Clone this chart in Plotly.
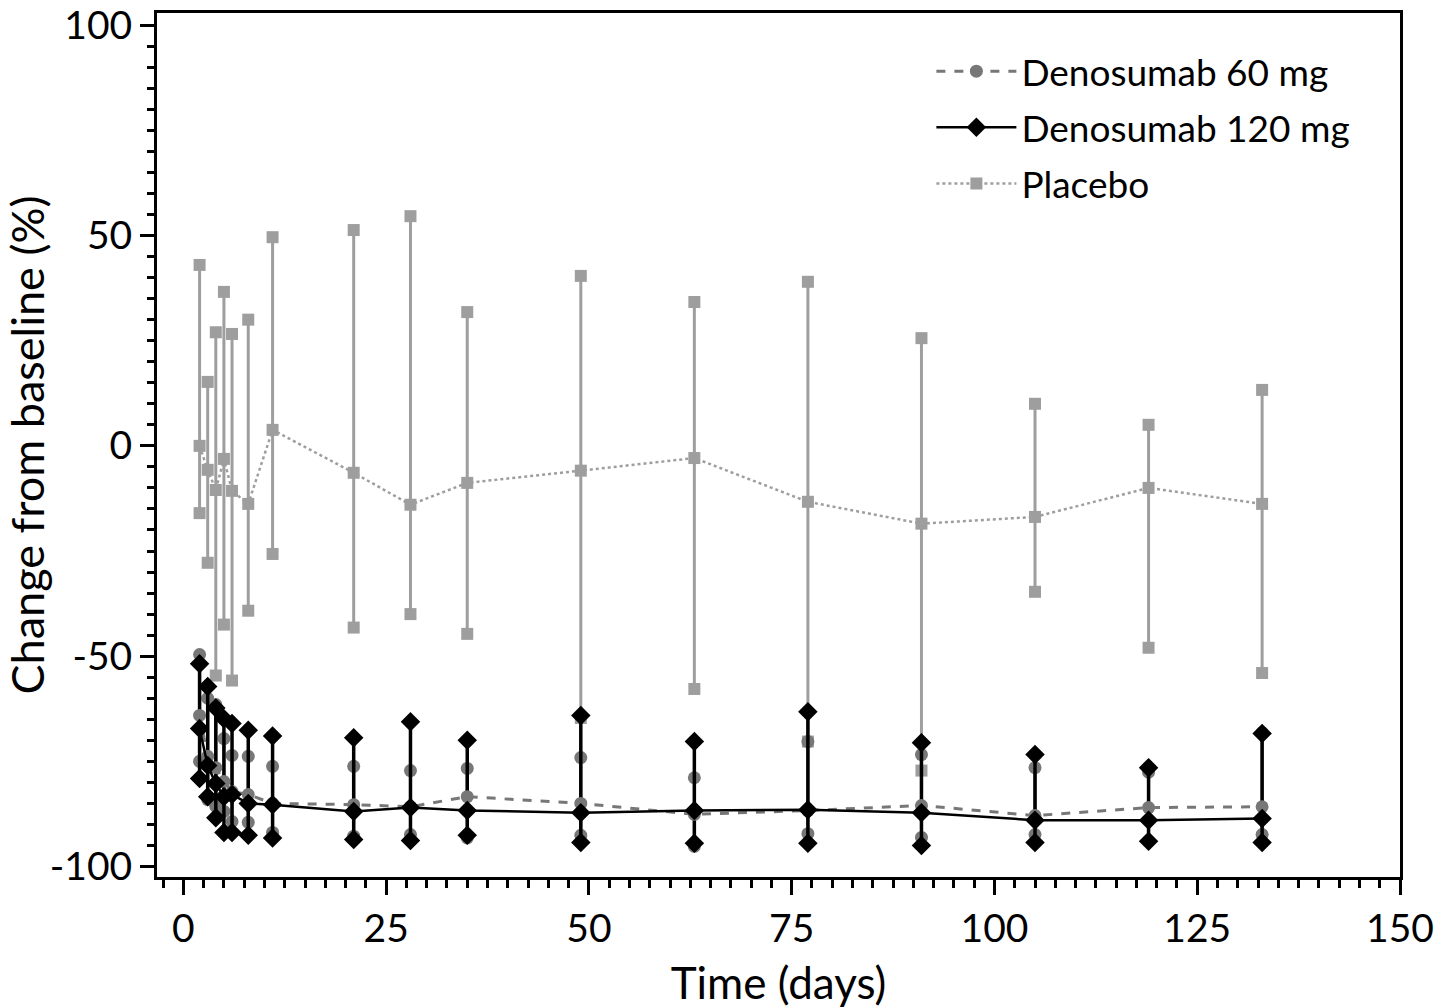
import plotly.graph_objects as go

days = [2, 3, 4, 5, 6, 8, 11, 21, 28, 35, 49, 63, 77, 91, 105, 119, 133]

placebo_mean = [0.0, -5.7, -10.5, -3.1, -10.7, -13.8, 3.8, -6.4, -14.0, -8.8, -5.9, -2.9, -13.3, -18.5, -16.9, -10.0, -13.8]
placebo_hi = [43.0, 15.2, 27.0, 36.6, 26.6, 30.0, 49.6, 51.3, 54.6, 31.8, 40.4, 34.2, 39.0, 25.6, 10.0, 5.0, 13.3]
placebo_lo = [-16.0, -27.8, -54.6, -42.5, -55.8, -39.2, -25.7, -43.2, -40.0, -44.7, -64.7, -57.8, -70.3, -77.2, -34.7, -48.0, -54.0]

d60_mean = [-64.1, -73.8, -76.5, -79.8, -82.2, -82.9, -85.0, -85.3, -85.8, -83.4, -85.0, -87.6, -86.7, -85.5, -87.9, -86.0, -85.8]
d60_hi = [-49.6, -60.0, -61.5, -69.6, -73.6, -73.8, -76.2, -76.2, -77.2, -76.7, -74.1, -78.9, -70.3, -73.4, -76.5, -77.6, -68.2]
d60_lo = [-75.0, -84.1, -85.7, -86.9, -89.3, -89.5, -91.9, -92.8, -92.4, -93.2, -92.6, -95.2, -92.2, -93.1, -92.4, -94.0, -92.4]

d120_mean = [-67.2, -76.0, -80.3, -83.4, -82.9, -85.0, -85.3, -86.9, -86.0, -86.7, -87.2, -86.7, -86.5, -87.2, -89.0, -89.0, -88.6]
d120_hi = [-51.8, -57.2, -62.3, -64.9, -66.0, -67.6, -69.0, -69.4, -65.6, -70.0, -64.1, -70.3, -63.2, -70.6, -73.4, -76.5, -68.4]
d120_lo = [-79.1, -83.4, -88.4, -91.9, -91.9, -92.6, -93.2, -93.6, -93.8, -92.6, -94.3, -94.5, -94.5, -95.0, -94.3, -94.0, -94.3]

x_ticks = [0, 25, 50, 75, 100, 125, 150]
y_ticks = [-100, -50, 0, 50, 100]
y_ticktext = ["-100", "-50", "0", "50", "100"]

FONT = "Lato"
C_PLA = "#9e9e9e"
C_60 = "#777777"
C_120 = "#000000"


def bar_xy(xs, lo, hi):
    bx, by = [], []
    for x, a, b in zip(xs, lo, hi):
        bx += [x, x, None]
        by += [a, b, None]
    return bx, by


fig = go.Figure()

bx, by = bar_xy(days, placebo_lo, placebo_hi)
fig.add_trace(go.Scatter(x=bx, y=by, mode="lines+markers", showlegend=False, hoverinfo="skip",
                         line=dict(color=C_PLA, width=3),
                         marker=dict(symbol="square", size=12, color=C_PLA)))
bx, by = bar_xy(days, d60_lo, d60_hi)
fig.add_trace(go.Scatter(x=bx, y=by, mode="lines+markers", showlegend=False, hoverinfo="skip",
                         line=dict(color=C_60, width=3),
                         marker=dict(symbol="circle", size=13, color=C_60)))
bx, by = bar_xy(days, d120_lo, d120_hi)
fig.add_trace(go.Scatter(x=bx, y=by, mode="lines+markers", showlegend=False, hoverinfo="skip",
                         line=dict(color=C_120, width=3.5),
                         marker=dict(symbol="diamond", size=15, color=C_120)))

fig.add_trace(go.Scatter(x=days, y=placebo_mean, mode="lines+markers", name="Placebo",
                         legendrank=3, legendgroup="c",
                         line=dict(color=C_PLA, width=2.5, dash="dot"),
                         marker=dict(symbol="square", size=12, color=C_PLA)))
fig.add_trace(go.Scatter(x=days, y=d60_mean, mode="lines+markers", name="Denosumab 60 mg",
                         legendrank=1, legendgroup="a",
                         line=dict(color=C_60, width=3, dash="dash"),
                         marker=dict(symbol="circle", size=13, color=C_60)))
fig.add_trace(go.Scatter(x=days, y=d120_mean, mode="lines+markers", name="Denosumab 120 mg",
                         legendrank=2, legendgroup="b",
                         line=dict(color=C_120, width=2.5),
                         marker=dict(symbol="diamond", size=15, color=C_120)))

axis_common = dict(showline=True, linecolor="black", linewidth=3, mirror=True,
                   ticks="outside", tickcolor="black", tickwidth=3,
                   showgrid=False, zeroline=False, automargin=False,
                   ticklabeloverflow="allow",
                   tickfont=dict(family=FONT, size=39, color="black"))

fig.update_xaxes(range=[-3.25, 150], tickvals=x_ticks, ticklen=15,
                 minor=dict(dtick=2.5, tick0=0, ticks="outside", ticklen=8, tickwidth=3, tickcolor="black"),
                 title=dict(text="Time (days)", font=dict(family=FONT, size=44, color="black"), standoff=26),
                 **axis_common)
fig.update_yaxes(range=[-102.5, 102.9], tickvals=y_ticks, ticktext=y_ticktext, ticklen=14,
                 minor=dict(dtick=5, tick0=0, ticks="outside", ticklen=7, tickwidth=3, tickcolor="black"),
                 title=dict(text="Change from baseline (%)", font=dict(family=FONT, size=45, color="black"), standoff=5),
                 **axis_common)

fig.update_layout(
    width=1453, height=1008,
    margin=dict(l=157, r=53, t=13, b=131),
    plot_bgcolor="white", paper_bgcolor="white",
    legend=dict(x=0.623, y=0.968, xanchor="left", yanchor="top",
                font=dict(family=FONT, size=37, color="black"),
                bgcolor="rgba(0,0,0,0)", itemwidth=80,
                traceorder="grouped", tracegroupgap=5),
)

# remove the default 8px page margin so the figure fills the window exactly
fig.write_html("out.html", config={"displayModeBar": False},
               post_script="document.body.style.margin='0px';")
